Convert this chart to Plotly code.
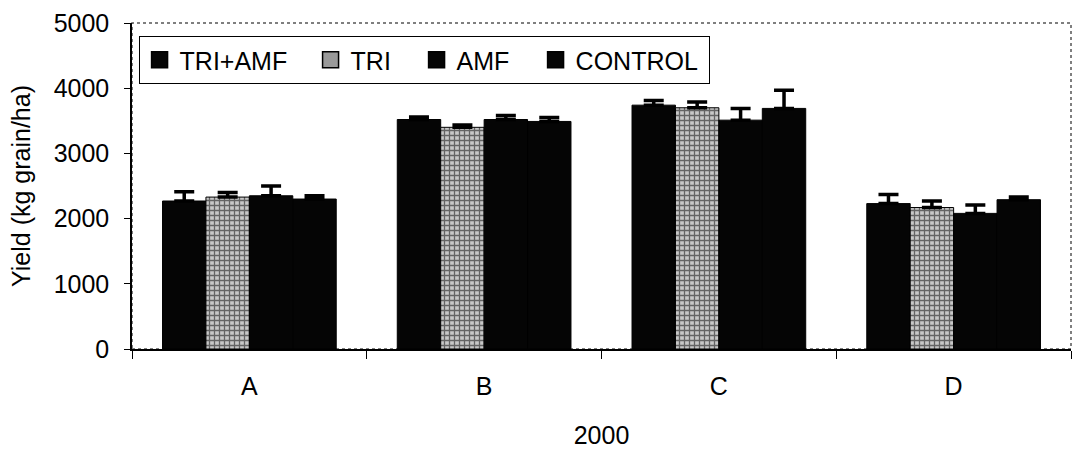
import plotly.graph_objects as go

categories = ["A", "B", "C", "D"]
series_names = ["TRI+AMF", "TRI", "AMF", "CONTROL"]
tri_amf = [2270, 3520, 3740, 2230]
tri = [2330, 3400, 3700, 2170]
amf = [2350, 3520, 3510, 2080]
control = [2300, 3490, 3690, 2290]
err_tri_amf = [140, 40, 70, 140]
err_tri = [70, 35, 90, 100]
err_amf = [150, 60, 180, 130]
err_control = [50, 60, 280, 40]
y_ticks = [0, 1000, 2000, 3000, 4000, 5000]

FONT = "Liberation Sans, Arial, sans-serif"
FS = 25
values = [tri_amf, tri, amf, control]
errors = [err_tri_amf, err_tri, err_amf, err_control]
legend_widths = [126, 61, 74, 128]

fig = go.Figure()
for i, (name, vals, errs) in enumerate(zip(series_names, values, errors)):
    is_tri = name == "TRI"
    if is_tri:
        marker = dict(color="#a0a0a0", line=dict(color="black", width=1),
                      pattern=dict(shape="+", fgcolor="black", bgcolor="#c8c8c8",
                                   size=5, solidity=0.45))
    else:
        marker = dict(color="#050505", line=dict(color="black", width=1))
    fig.add_trace(go.Bar(
        x=categories, y=vals, name=name, marker=marker, showlegend=False,
        error_y=dict(type="data", array=errs, arrayminus=[0] * len(errs),
                     symmetric=False, color="black", thickness=3.5, width=10),
    ))
    # legend entry (no data points of its own)
    fig.add_trace(go.Scatter(
        x=[None], y=[None], mode="markers", name=name, showlegend=True,
        legendwidth=legend_widths[i],
        marker=dict(symbol="square", size=18,
                    color="#9a9a9a" if is_tri else "#050505",
                    line=dict(color="black", width=1.5)),
    ))

fig.update_layout(
    width=1075, height=461,
    margin=dict(l=132, r=4, t=23, b=112),
    paper_bgcolor="white", plot_bgcolor="white",
    barmode="group", bargap=0.26, bargroupgap=0,
    font=dict(family=FONT, size=FS, color="black"),
    legend=dict(orientation="h", x=0.007, y=0.96, xanchor="left", yanchor="top",
                bordercolor="black", borderwidth=1, bgcolor="white",
                font=dict(family=FONT, size=FS, color="black"),
                itemwidth=30, tracegroupgap=0),
    shapes=[dict(type="rect", xref="paper", yref="paper", x0=0, x1=1, y0=0, y1=1,
                 line=dict(color="#555555", width=1.5, dash="dot"), layer="below")],
)
fig.update_xaxes(
    type="category", showline=True, linecolor="black", linewidth=1.5,
    ticks="outside", tickson="boundaries", ticklen=8, tickcolor="black",
    showgrid=False, tickfont=dict(size=FS), ticklabelstandoff=14,
    title=dict(text="2000", font=dict(size=FS), standoff=28),
)
fig.update_yaxes(
    range=[0, 5000], tickvals=y_ticks, showline=True, linecolor="black", linewidth=1.5,
    ticks="outside", ticklen=6, tickcolor="black", showgrid=False, zeroline=False,
    tickfont=dict(size=FS), ticklabelstandoff=10,
    title=dict(text="Yield (kg grain/ha)", font=dict(size=FS), standoff=16),
)

fig.write_html("out.html")
